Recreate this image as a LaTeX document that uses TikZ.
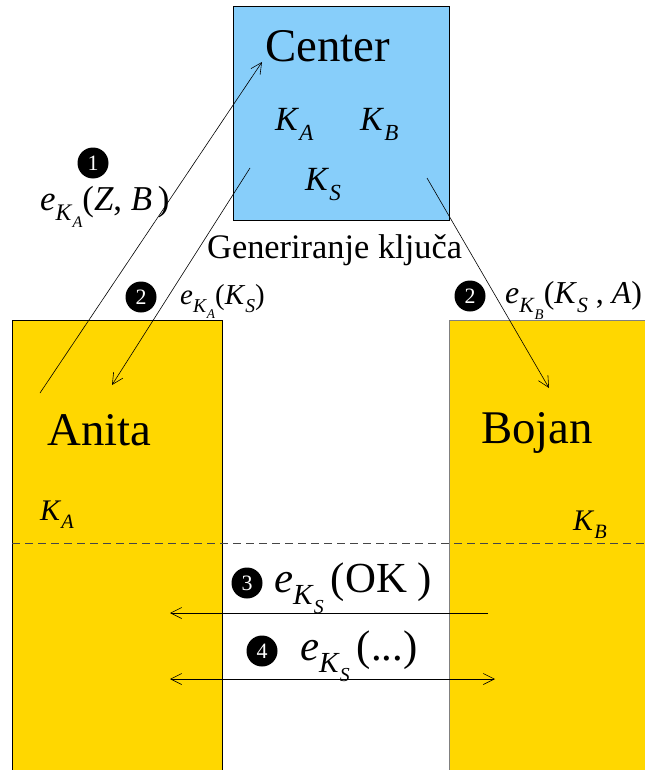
\documentclass[tikz,border=0pt]{standalone}
\usepackage{fontspec}
\setmainfont{Liberation Serif}
\usepackage{graphicx}
\usetikzlibrary{arrows.meta, positioning, calc}
\definecolor{centerblue}{RGB}{135, 206, 250}
\definecolor{usergold}{RGB}{255, 215, 0}
\definecolor{darkline}{RGB}{70, 70, 70}

\newcommand{\fs}[1]{\fontsize{#1}{#1}\selectfont}
\newcommand{\lowsub}[1]{\raisebox{-0.3em}{\scalebox{0.68}{#1}}}
\newcommand{\key}[1]{\textit{K}\lowsub{\textit{#1}}}
\newcommand{\enc}[1]{\textit{e}\lowsub{\key{#1}}}

\tikzset{
    party/.style={draw=black, fill=usergold, line width=0.8pt},
    stepnum/.style={circle, fill=black, text=white, inner sep=0pt, minimum size=31bp, font=\fs{22}},
    lbl/.style={anchor=base west, inner sep=0pt},
    msg/.style={-{Straight Barb[length=11bp,width=11bp]}, line width=0.6pt},
}

\begin{document}
\begin{tikzpicture}[x=1bp, y=-1bp]
    \useasboundingbox (0,0) rectangle (645,770);

    % parties
    \draw[party] (12,320) rectangle (222,776);
    \draw[party, draw=gray] (449,320) rectangle (652,776);
    \draw[fill=centerblue, line width=0.6pt] (233,6) rectangle (449,220);
    \draw[darkline, dash pattern=on 8bp off 5bp, line width=0.7pt] (12,543) -- (645,543);

    \node[lbl, font=\fs{47}] (center) at (265,62) {Center};
    \node[lbl, font=\fs{34}] (keya) at (275,130) {\key{A}};
    \node[lbl, font=\fs{34}] (keyb) at (360,130) {\key{B}};
    \node[lbl, font=\fs{34}] (keys) at (305,190) {\key{S}};
    \node[lbl, font=\fs{34.5}] (gen) at (207,258) {Generiranje ključa};

    \node[lbl, font=\fs{47}] (anita) at (47,445) {Anita};
    \node[lbl, font=\fs{47}] (bojan) at (481,443) {Bojan};
    \node[lbl, font=\fs{30}] (anitakey) at (40,520) {\key{A}};
    \node[lbl, font=\fs{30}] (bojankey) at (573,530) {\key{B}};

    % messages
    \coordinate (m1s) at (40,393);
    \coordinate (m1e) at (262,62);
    \coordinate (m2s) at (250,168);
    \coordinate (m2e) at (112,385);
    \coordinate (m3s) at (427,178);
    \coordinate (m3e) at (549,388);
    \coordinate (m4s) at (488,613);
    \coordinate (m4e) at (170,613);
    \coordinate (m5s) at (170,679);
    \coordinate (m5e) at (495,679);
    \draw[msg] (m1s) -- (m1e);
    \draw[msg] (m2s) -- (m2e);
    \draw[msg] (m3s) -- (m3e);
    \draw[msg] (m4s) -- (m4e);
    \draw[msg, {Straight Barb[length=11bp,width=11bp]}-{Straight Barb[length=11bp,width=11bp]}] (m5s) -- (m5e);

    % labels
    \node[stepnum] (n1) at (93,163) {1};
    \node[lbl, font=\fs{35}] (l1) at (40,210) {\enc{A}(\textit{Z}, \textit{B}\,)};
    \node[stepnum] (n2a) at (141,297) {2};
    \node[lbl, font=\fs{29}] (l2a) at (180,304) {\enc{A}(\key{S})};
    \node[stepnum] (n2b) at (470,296) {2};
    \node[lbl, font=\fs{32}] (l2b) at (505,303) {\enc{B}(\key{S} , \textit{A})};
    \node[stepnum] (n3) at (247,583) {3};
    \node[lbl, font=\fs{43}] (l3) at (274,592) {\enc{S}\,(OK )};
    \node[stepnum] (n4) at (262,651) {4};
    \node[lbl, font=\fs{43}] (l4) at (300,660) {\enc{S}\,(...)};
\end{tikzpicture}
\end{document}
